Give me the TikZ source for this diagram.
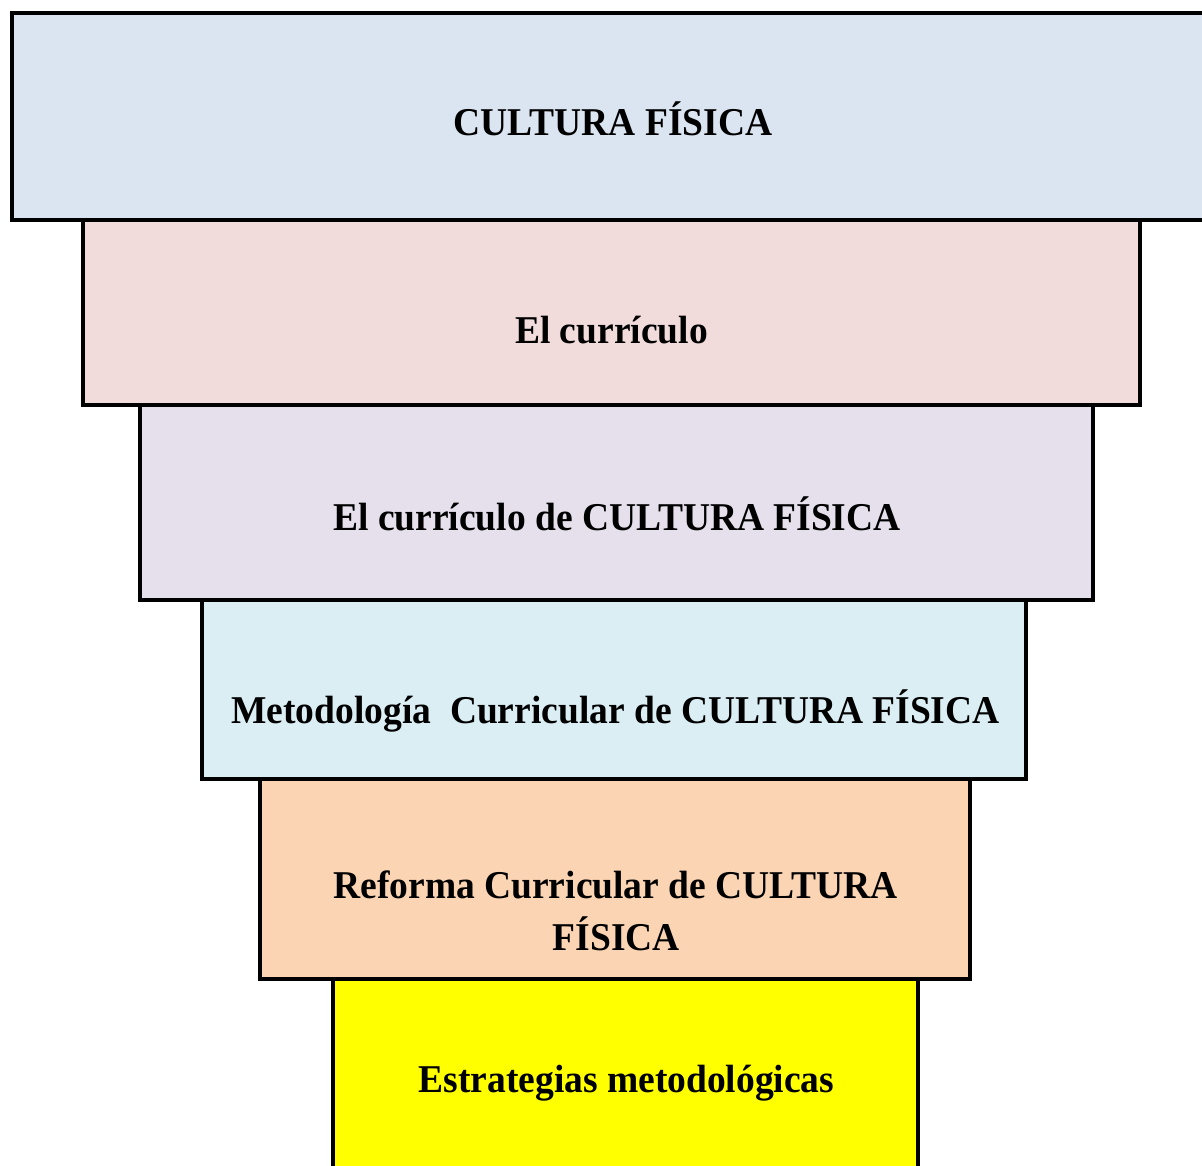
\documentclass[tikz,border=0pt]{standalone}
\usepackage{fontspec}
\setmainfont{Liberation Serif}
\definecolor{cA}{HTML}{DBE5F1}
\definecolor{cB}{HTML}{F2DCDB}
\definecolor{cC}{HTML}{E5E0EC}
\definecolor{cD}{HTML}{DBEEF3}
\definecolor{cE}{HTML}{FBD4B4}
\definecolor{cF}{HTML}{FFFF00}
\newcommand{\tallbox}[1]{\scalebox{1}[1.05]{#1}}
\tikzset{
  layer/.style={draw=black, line width=4pt, rectangle, inner sep=0pt},
  lbl/.style={anchor=base, inner sep=0pt, font=\fontsize{37.5}{52}\selectfont\bfseries}
}
\begin{document}
\begin{tikzpicture}[x=1pt,y=-1pt]
\clip (0,0) rectangle (1202,1166);
\fill[white] (0,0) rectangle (1202,1166);
\node[layer, fill=cA, minimum width=1198pt, minimum height=207pt] (b1) at (611,116.5) {};
\node[layer, fill=cB, minimum width=1057pt, minimum height=185pt] (b2) at (611.5,312.5) {};
\node[layer, fill=cC, minimum width=953.5pt, minimum height=195pt] (b3) at (616.25,502.5) {};
\node[layer, fill=cD, minimum width=824pt, minimum height=178.5pt] (b4) at (614,689.25) {};
\node[layer, fill=cE, minimum width=709.5pt, minimum height=200.5pt] (b5) at (614.75,878.75) {};
\node[layer, fill=cF, minimum width=585.5pt, minimum height=196pt] (b6) at (625.25,1077) {};
\node[lbl] (t1) at (613,135.7) {\tallbox{CULTURA FÍSICA}};
\node[lbl] (t2) at (611.5,343) {\tallbox{El currículo}};
\node[lbl] (t3) at (617,530) {\tallbox{El currículo de CULTURA FÍSICA}};
\node[lbl] (t4) at (615.5,723) {\tallbox{Metodología~ Curricular de CULTURA FÍSICA}};
\node[lbl] (t5a) at (615.5,898) {\tallbox{Reforma Curricular de CULTURA}};
\node[lbl] (t5b) at (616.5,950.7) {\tallbox{FÍSICA}};
\node[lbl] (t6) at (626.5,1092) {\tallbox{Estrategias metodológicas}};
\end{tikzpicture}
\end{document}
